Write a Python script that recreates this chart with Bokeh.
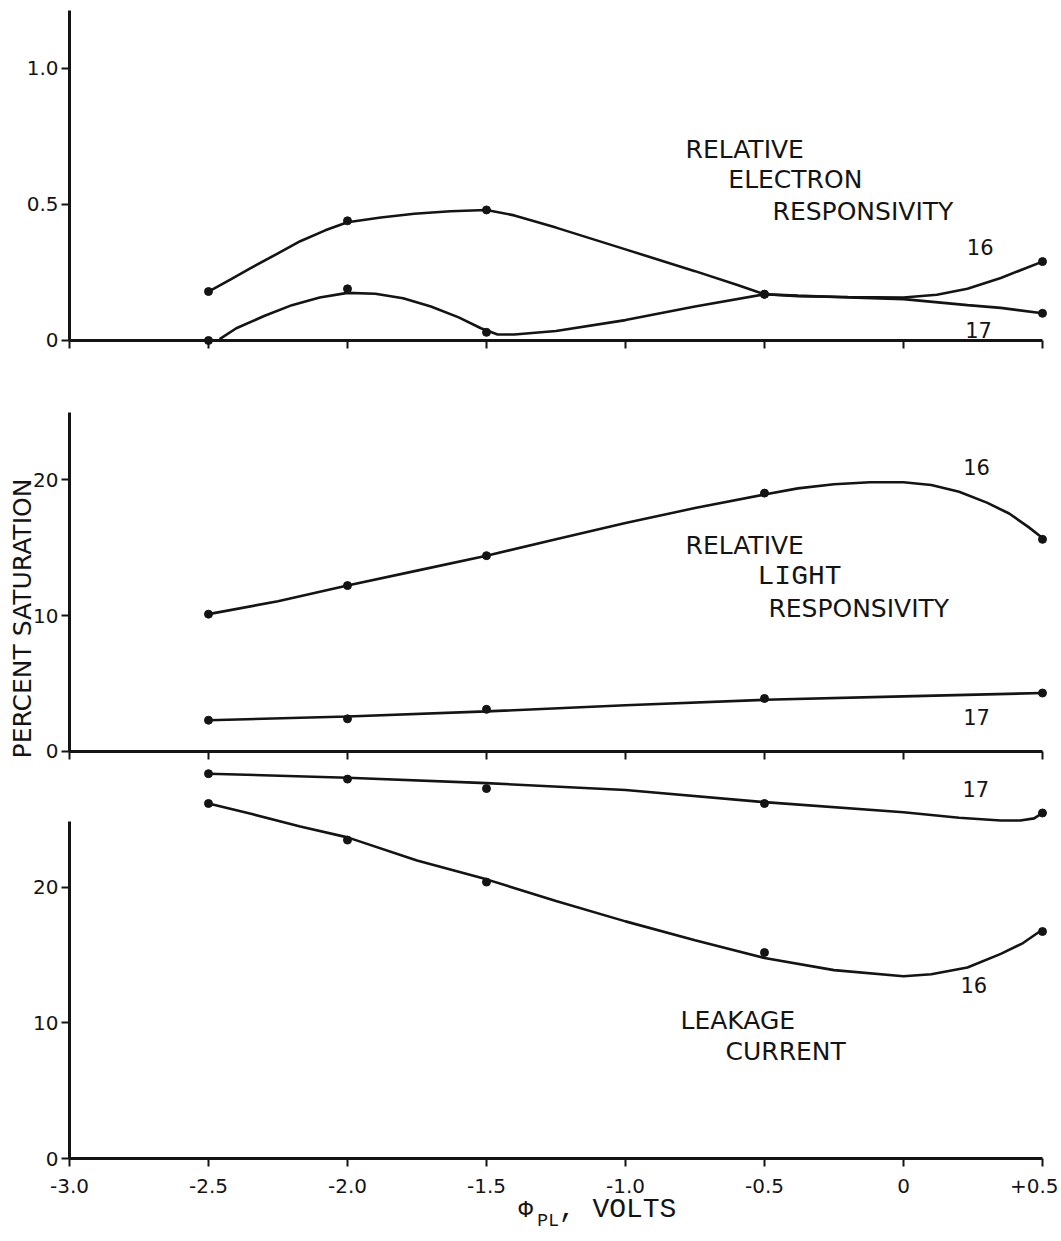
import math
from bokeh.plotting import figure
from bokeh.layouts import column
from bokeh.models import FixedTicker, Range1d
from bokeh.core.properties import value
from bokeh.embed import file_html
from bokeh.resources import INLINE

# ---------------- data ----------------
x_pts = [-2.5, -2.0, -1.5, -0.5, 0.5]

# relative electron responsivity (top panel)
elec_16 = [0.18, 0.44, 0.48, 0.17, 0.29]
elec_17 = [0.0, 0.19, 0.03, 0.17, 0.10]
elec_16_curve_x = [-2.5, -2.42, -2.35, -2.26, -2.17, -2.08, -2.0, -1.88, -1.76, -1.63, -1.5,
                   -1.4, -1.25, -1.0, -0.75, -0.6, -0.5, -0.38, -0.2, 0.0, 0.12, 0.23, 0.35, 0.5]
elec_16_curve_y = [0.18, 0.225, 0.265, 0.315, 0.365, 0.405, 0.435, 0.452, 0.466, 0.475, 0.48,
                   0.46, 0.415, 0.335, 0.255, 0.205, 0.17, 0.163, 0.16, 0.158, 0.168, 0.19, 0.23, 0.29]
elec_17_curve_x = [-2.46, -2.4, -2.3, -2.2, -2.1, -2.0, -1.9, -1.8, -1.7, -1.6, -1.52, -1.46,
                   -1.4, -1.25, -1.0, -0.75, -0.5, -0.38, -0.2, 0.0, 0.23, 0.35, 0.5]
elec_17_curve_y = [0.005, 0.045, 0.09, 0.13, 0.158, 0.175, 0.172, 0.155, 0.125, 0.085, 0.045, 0.022,
                   0.022, 0.035, 0.075, 0.125, 0.17, 0.165, 0.158, 0.152, 0.13, 0.12, 0.10]

# relative light responsivity (middle panel), percent saturation
light_16 = [10.1, 12.2, 14.4, 19.0, 15.6]
light_17 = [2.3, 2.4, 3.1, 3.9, 4.3]
light_16_curve_x = [-2.5, -2.25, -2.0, -1.75, -1.5, -1.25, -1.0, -0.75, -0.5, -0.38, -0.25,
                    -0.12, 0.0, 0.1, 0.2, 0.3, 0.38, 0.45, 0.5]
light_16_curve_y = [10.1, 11.05, 12.2, 13.3, 14.4, 15.6, 16.8, 17.9, 18.9, 19.35, 19.65,
                    19.8, 19.8, 19.6, 19.1, 18.3, 17.5, 16.5, 15.7]
light_17_curve_x = [-2.5, -2.0, -1.5, -1.0, -0.5, 0.0, 0.5]
light_17_curve_y = [2.3, 2.57, 2.95, 3.4, 3.8, 4.05, 4.3]

# leakage current (bottom panel), percent saturation
leak_16 = [26.2, 23.5, 20.4, 15.2, 16.75]
leak_17 = [28.4, 28.0, 27.3, 26.2, 25.5]
leak_16_curve_x = [-2.5, -2.34, -2.17, -2.0, -1.75, -1.5, -1.25, -1.0, -0.75, -0.5, -0.25,
                   0.0, 0.1, 0.23, 0.35, 0.43, 0.49]
leak_16_curve_y = [26.2, 25.4, 24.5, 23.7, 22.0, 20.6, 19.0, 17.5, 16.1, 14.8, 13.9,
                   13.45, 13.6, 14.1, 15.1, 15.9, 16.75]
leak_17_curve_x = [-2.5, -2.0, -1.5, -1.0, -0.5, 0.0, 0.2, 0.35, 0.42, 0.47, 0.5]
leak_17_curve_y = [28.4, 28.1, 27.7, 27.2, 26.3, 25.55, 25.15, 24.95, 24.95, 25.1, 25.5]

x_ticks = [-3.0, -2.5, -2.0, -1.5, -1.0, -0.5, 0.0, 0.5]
x_tick_labels = ["-3.0", "-2.5", "-2.0", "-1.5", "-1.0", "-0.5", "0", "+0.5"]
top_y_ticks = [0.0, 0.5, 1.0]
top_y_labels = ["0", "0.5", "1.0"]
pct_y_ticks = [0, 10, 20]
pct_y_labels = ["0", "10", "20"]

# ---------------- styling ----------------
INK = "#141414"
SANS = "DejaVu Sans"
MONO = "Liberation Mono"
W = 1058
X_START, X_END = -3.2482, 0.5576


def make_fig(height, y0, y1, yticks, ylabels, ybound_top, show_x_labels):
    p = figure(width=W, height=height,
               x_range=Range1d(X_START, X_END), y_range=Range1d(y0, y1),
               output_backend="svg", toolbar_location=None,
               min_border_left=0, min_border_right=0,
               min_border_top=0, min_border_bottom=0)
    p.title.visible = False
    p.grid.visible = False
    p.outline_line_color = None
    p.background_fill_color = "white"
    p.border_fill_color = "white"
    for ax in (p.xaxis[0], p.yaxis[0]):
        ax.axis_line_width = 3
        ax.axis_line_color = INK
        ax.major_tick_line_width = 2
        ax.major_tick_line_color = INK
        ax.major_tick_in = 0
        ax.major_tick_out = 8
        ax.minor_tick_line_color = None
        ax.major_label_text_font = SANS
        ax.major_label_text_font_size = "20px"
        ax.major_label_text_color = INK
    xa = p.xaxis[0]
    xa.fixed_location = 0
    xa.bounds = (-3.0, 0.5)
    xa.ticker = FixedTicker(ticks=x_ticks)
    xa.major_label_overrides = {t: l for t, l in zip(x_ticks, x_tick_labels)}
    xa.major_label_standoff = 12
    if not show_x_labels:
        xa.major_label_text_color = None
    ya = p.yaxis[0]
    ya.fixed_location = -3.0
    ya.bounds = (0, ybound_top)
    ya.ticker = FixedTicker(ticks=yticks)
    ya.major_label_overrides = {t: l for t, l in zip(yticks, ylabels)}
    ya.major_label_standoff = 3
    return p


def series(p, cx, cy, px, py):
    p.line(cx, cy, line_color=INK, line_width=2.6)
    p.scatter(px, py, marker="circle", size=8, fill_color=INK, line_color=INK)


def note(p, text, x, y, size="25px", font=SANS, align="left", angle=0.0):
    p.text(x=[x], y=[y], text=[text], text_font=value(font), text_font_size=value(size),
           text_color=INK, text_baseline="middle", text_align=align, angle=angle)


# ---------------- top panel ----------------
p1 = make_fig(400, -0.2206, 1.25, top_y_ticks, top_y_labels, 1.213, False)
series(p1, elec_16_curve_x, elec_16_curve_y, x_pts, elec_16)
series(p1, elec_17_curve_x, elec_17_curve_y, x_pts, elec_17)
note(p1, "RELATIVE", -0.784, 0.704)
note(p1, "ELECTRON", -0.630, 0.591)
note(p1, "RESPONSIVITY", -0.471, 0.474)
note(p1, "16", 0.228, 0.343, size="21px")
note(p1, "17", 0.222, 0.040, size="21px")

# ---------------- middle panel ----------------
p2 = make_fig(362, -0.809, 25.81, pct_y_ticks, pct_y_labels, 24.93, False)
series(p2, light_16_curve_x, light_16_curve_y, x_pts, light_16)
series(p2, light_17_curve_x, light_17_curve_y, x_pts, light_17)
note(p2, "RELATIVE", -0.784, 15.15)
note(p2, "LIGHT", -0.525, 12.9, size="28px", font=MONO)
note(p2, "RESPONSIVITY", -0.486, 10.5)
note(p2, "16", 0.215, 20.9, size="21px")
note(p2, "17", 0.215, 2.5, size="21px")
note(p2, "PERCENT SATURATION", -3.169, 9.78, align="center", angle=math.pi / 2)

# ---------------- bottom panel ----------------
p3 = make_fig(476, -5.904, 29.225, pct_y_ticks, pct_y_labels, 24.9, True)
series(p3, leak_16_curve_x, leak_16_curve_y, x_pts, leak_16)
series(p3, leak_17_curve_x, leak_17_curve_y, x_pts, leak_17)
note(p3, "17", 0.212, 27.3, size="21px")
note(p3, "16", 0.205, 12.8, size="21px")
note(p3, "LEAKAGE", -0.802, 10.2)
note(p3, "CURRENT", -0.640, 7.9)
# x-axis title: phi with subscript PL
note(p3, "Φ", -1.385, -3.84, size="24px", font=MONO)
note(p3, "PL", -1.317, -4.58, size="18px", font=MONO)
note(p3, ", VOLTS", -1.240, -3.76, size="28px", font=MONO)

layout = column(p1, p2, p3, spacing=0)
open("out.html", "w").write(file_html(layout, INLINE))
